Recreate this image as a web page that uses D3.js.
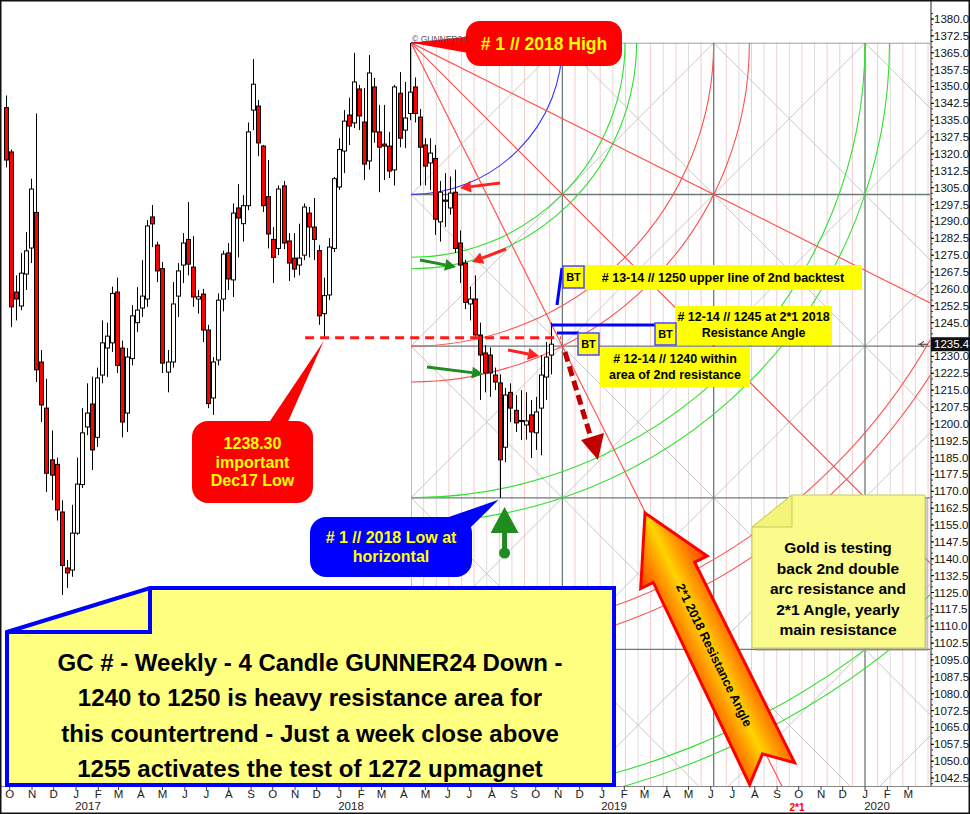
<!DOCTYPE html>
<html><head><meta charset="utf-8">
<script src="https://cdn.jsdelivr.net/npm/d3@7"></script>
<style>
body{margin:0;background:#fff;}
svg{display:block;font-family:"Liberation Sans",Arial,sans-serif;}
</style>
</head><body>
<svg id="c" width="970" height="814"></svg>
<script>
// ---------------- DATA ----------------
const firstWeek = "2016-09-26";
const lastWeek  = "2018-10-22";
const opens  = [1340.6,1320.9,1258.6,1252.4,1266.6,1278.2,1294,1227.5,1207,1184,1182,1160.8,1135.9,1135,1151.4,1173,1198.6,1208.8,1194,1221.7,1233.7,1236,1258.6,1233.7,1204.8,1229,1245,1251.5,1255.5,1292,1279.5,1269,1223,1227.5,1256.8,1270.6,1282,1269.7,1255.5,1257.7,1241.7,1211.5,1228.4,1255.5,1276,1264,1296,1289,1297,1339.5,1341.3,1323.5,1301,1282,1278,1305.8,1281.3,1273.7,1270.6,1275,1293.7,1287.5,1277,1249,1257.3,1278,1305.3,1321.3,1337.3,1333.8,1348.9,1334.2,1316.9,1349.8,1329.8,1324.4,1323.5,1312.9,1347,1330.6,1338,1349.8,1336.4,1324,1316,1318,1289.8,1299.5,1296,1303,1280.4,1271.5,1253.3,1255.5,1239.5,1231.5,1230.6,1221.7,1218.2,1189.6,1214,1206,1201,1199.5,1204,1196,1207,1220.8,1230.6];
const highs  = [1346,1322,1266,1276,1285.3,1309,1338,1232.8,1220,1197,1185,1166,1139.5,1164,1185,1207,1218,1221,1225,1246,1245,1261,1265,1237,1233.7,1252.8,1260.8,1272.8,1290.6,1297.3,1281,1272,1232.8,1263,1271.5,1284.8,1298.6,1283.5,1259.5,1260,1244,1229.7,1258,1277,1280.4,1298,1306.6,1301.7,1334,1362.2,1344,1324,1317.3,1287.5,1306,1308,1284.8,1284.8,1289,1298,1296.4,1300.4,1279.5,1265,1282.6,1309.7,1327,1339.5,1345,1365,1350.7,1349.3,1364,1353.8,1341.8,1341.8,1329.8,1350.7,1356.4,1352,1369.4,1354,1340,1327,1327,1324,1308,1311.5,1310,1313,1286,1273,1261,1266,1245,1235,1234,1225,1222,1216,1218,1212.8,1215,1214,1210.6,1212,1230.6,1236.4,1245];
const lows   = [1314,1243,1246,1250.6,1259.5,1271.5,1218.6,1200.8,1169.7,1166,1157,1123.9,1127,1132,1150.6,1171.5,1195,1179.5,1189.7,1218,1220.8,1232,1222.6,1194,1196.4,1226,1240.8,1247.5,1252,1278.6,1263,1222.6,1214,1225,1247.5,1262.6,1266,1252,1249,1236.4,1207,1204,1226,1250,1259.5,1256.4,1274,1281,1295,1330.6,1319,1294.2,1278,1262.6,1275,1277.7,1263.5,1265,1266,1272.8,1274,1272.8,1244,1238.3,1255,1276.4,1304,1311.5,1324,1331.5,1330.6,1308.4,1313,1325,1303,1308.4,1309.3,1306,1323,1322.6,1335,1334,1306,1306,1304,1284,1281,1287.5,1293,1276,1262.6,1251,1246,1238,1210.6,1214,1212,1215,1167.1,1183,1200.8,1196.4,1192.8,1193,1184.8,1188.4,1186,1210.6,1222];
const closes = [1317.3,1252,1255.5,1267,1276.9,1304.4,1224,1208.4,1178,1177.2,1161.7,1137,1133.7,1151.4,1173.2,1196,1204.8,1188.4,1220.4,1236,1239,1258,1226,1200.8,1229.7,1248,1250.6,1256.8,1288,1288.9,1268,1227,1227.5,1253.3,1268,1280.4,1271,1256.4,1256.5,1241.7,1209,1227.5,1255,1275.5,1264.4,1293.7,1291.5,1297,1329.8,1351,1324.9,1297,1284.4,1274,1304.4,1280.4,1271.5,1268.8,1273.7,1296.4,1287.5,1282,1248,1257,1278.6,1309,1322,1334.6,1332.4,1352,1336.9,1315.5,1356,1329.8,1323,1323.5,1312.4,1349.8,1327,1336,1347.5,1338,1323,1314.6,1320.4,1291,1303,1299,1302.6,1278,1270.6,1254,1255.5,1239.5,1230.6,1222.6,1222.6,1218.6,1184,1212.8,1207,1200.4,1201.5,1201.3,1196.4,1205.3,1221.7,1229.7,1235.4];

const priceTicks = d3.range(1042.5, 1380.01, 7.5);
const monthLetters = ["J","F","M","A","M","J","J","A","S","O","N","D"];
const yearLabels = ["2017","2018","2019","2020"];
const lastPrice = 1235.4;
const dec17Low = 1238.3;
const low2018 = {date:"2018-08-16", price:1167.1};
const gannOrigin = {date:"2018-04-11", price:1369.4};
const squareDays = 210, squarePrice = 67.43;
const arcs = [ // radius in squares
  {r:1, c:"#3030ff"},
  {r:1.414, c:"#30e030"},{r:1.49, c:"#30e030"},
  {r:2, c:"#ff5050"},{r:2.236, c:"#ff5050"},
  {r:3, c:"#30e030"},{r:3.162, c:"#30e030"},
  {r:3.95, c:"#ff5050"},{r:4.07, c:"#ff5050"},
  {r:5, c:"#30e030"},{r:5.1, c:"#30e030"}
];
const fanLines = [[1,1],[2,1],[1,2]]; // [time squares, price squares]

// ---------------- SETUP ----------------
const parse = d3.timeParse("%Y-%m-%d");
const weeks = d3.timeMonday.range(parse(firstWeek), d3.timeDay.offset(parse(lastWeek),1));
const candles = weeks.map((d,i)=>({d, o:opens[i], h:highs[i], l:lows[i], c:closes[i]}));

const PR = 930, PT = 8, PB = 786;
const x = d3.scaleTime().domain([new Date(2017,0,1), new Date(2020,0,1)]).range([76,865]);
const y = d3.scaleLinear().domain([1040.3,1384.9]).range([783,8]);

const svg = d3.select("#c");
const defs = svg.append("defs");
defs.append("clipPath").attr("id","plot").append("rect").attr("x",0).attr("y",PT).attr("width",PR).attr("height",PB-PT);

const o = parse(gannOrigin.date);
const ox = x(o), oy = y(gannOrigin.price);
const sx = x(d3.timeDay.offset(o, squareDays)) - ox;
const sy = y(gannOrigin.price - squarePrice) - oy;
defs.append("clipPath").attr("id","grid").append("rect").attr("x",ox).attr("y",oy).attr("width",PR-ox).attr("height",PB-oy);

svg.append("rect").attr("width",970).attr("height",814).attr("fill","#fff");

const G = svg.append("g").attr("clip-path","url(#grid)");
// light sub-verticals
for (let m=1; ox + m*sx/12 < PR; m++) {
  if (m%12===0) continue;
  const xx = ox + m*sx/12;
  G.append("line").attr("x1",xx).attr("x2",xx).attr("y1",oy).attr("y2",PB)
    .attr("stroke", m%2 ? "#f5cccc" : "#dedada").attr("stroke-width",1);
}
// gray diagonals
for (let k=-8; k<=12; k++) {
  const bx = ox + k*sx;
  G.append("line").attr("x1",bx).attr("y1",oy).attr("x2",bx+8*sx).attr("y2",oy+8*sy).attr("stroke","#c8c8c8").attr("stroke-width",1);
  G.append("line").attr("x1",bx).attr("y1",oy).attr("x2",bx-8*sx).attr("y2",oy+8*sy).attr("stroke","#c8c8c8").attr("stroke-width",1);
}
// main grid
for (let j=0;j<6;j++) G.append("line").attr("x1",ox).attr("x2",PR).attr("y1",oy+j*sy).attr("y2",oy+j*sy).attr("stroke","#6e7a78").attr("stroke-width",1.3);
for (let i=0;i<4;i++) G.append("line").attr("x1",ox+i*sx).attr("x2",ox+i*sx).attr("y1",oy).attr("y2",PB).attr("stroke", i===0?"#9a9a9a":"#6e7a78").attr("stroke-width",1.3);
// arcs
arcs.forEach(a=>{
  const rx=a.r*sx, ry=a.r*sy;
  G.append("path").attr("d",`M${ox},${oy+ry} A${rx},${ry} 0 0 0 ${ox+rx},${oy}`)
   .attr("fill","none").attr("stroke",a.c).attr("stroke-width",1.1);
});
// fan lines
fanLines.forEach(([a,b])=>{
  G.append("line").attr("x1",ox).attr("y1",oy).attr("x2",ox+a*sx*8).attr("y2",oy+b*sy*8)
   .attr("stroke","#ff4a4a").attr("stroke-width",1.1);
});
svg.append("line").attr("x1",ox).attr("x2",ox+55).attr("y1",oy).attr("y2",oy).attr("stroke","#3030ff").attr("stroke-width",1.5);

// ---------------- CANDLES ----------------
const C = svg.append("g").attr("clip-path","url(#plot)");
C.selectAll("line.w").data(candles).join("line")
  .attr("x1",d=>Math.round(x(d.d))+0.5).attr("x2",d=>Math.round(x(d.d))+0.5)
  .attr("y1",d=>y(d.h)).attr("y2",d=>y(d.l)).attr("stroke","#000").attr("stroke-width",1);
C.selectAll("rect.b").data(candles).join("rect")
  .attr("x",d=>Math.round(x(d.d))-1.5).attr("width",4)
  .attr("y",d=>y(Math.max(d.o,d.c))).attr("height",d=>Math.max(1,Math.abs(y(d.o)-y(d.c))))
  .attr("fill",d=>d.c<d.o?"#ff0000":"#ffffff").attr("stroke","#000").attr("stroke-width",1);

// ---------------- AXES ----------------
const ax = svg.append("g");
ax.append("line").attr("x1",PR+1).attr("x2",PR+1).attr("y1",0).attr("y2",PB).attr("stroke","#222");
ax.append("line").attr("x1",0).attr("x2",970).attr("y1",PB+0.5).attr("y2",PB+0.5).attr("stroke","#888");
d3.range(1040,1382.6,2.5).forEach(p=>{
  ax.append("line").attr("x1",PR+1).attr("x2",PR+3).attr("y1",y(p)).attr("y2",y(p)).attr("stroke","#333");
});
priceTicks.forEach(p=>{
  ax.append("line").attr("x1",PR+1).attr("x2",PR+4).attr("y1",y(p)).attr("y2",y(p)).attr("stroke","#000");
  if (Math.abs(y(p)-y(lastPrice)) < 11) return; // hidden by current price box
  ax.append("text").attr("x",PR+4).attr("y",y(p)+4).attr("font-size",11.5).attr("fill","#111").text(d3.format(".1f")(p));
});
ax.append("rect").attr("x",PR+1).attr("y",y(lastPrice)-7).attr("width",38).attr("height",14).attr("fill","#111");
ax.append("text").attr("x",PR+4).attr("y",y(lastPrice)+4).attr("font-size",11.5).attr("fill","#fff").text(d3.format(".1f")(lastPrice));
ax.append("path").attr("d",`M${PR-12},${y(lastPrice)} L${PR-2},${y(lastPrice)} M${PR-6},${y(lastPrice)-3} L${PR-10},${y(lastPrice)} L${PR-6},${y(lastPrice)+3}`).attr("stroke","#333").attr("fill","none");
d3.timeMonth.range(new Date(2016,9,1), new Date(2020,3,1)).forEach(d=>{
  const xx = x(d);
  ax.append("line").attr("x1",xx).attr("x2",xx).attr("y1",PB).attr("y2",PB+4).attr("stroke","#444");
  ax.append("text").attr("x",xx).attr("y",PB+12).attr("text-anchor","middle").attr("font-size",11.5).attr("fill","#222").text(monthLetters[d.getMonth()]);
});
yearLabels.forEach(yy=>{
  ax.append("text").attr("x",x(new Date(+yy,0,1))+12).attr("y",PB+24).attr("text-anchor","middle").attr("font-size",11.5).attr("fill","#222").text(yy);
});
ax.append("text").attr("x",797).attr("y",PB+25).attr("text-anchor","middle").attr("font-size",10).attr("font-weight","bold").attr("fill","#ff0000").text("2*1");
svg.append("rect").attr("x",0.75).attr("y",0.75).attr("width",968.5).attr("height",812.5).attr("fill","none").attr("stroke","#111").attr("stroke-width",1.5);

// ---------------- ANNOTATIONS ----------------
const A = svg.append("g");
A.append("line").attr("x1",x(parse("2017-11-15"))).attr("x2",x(parse("2018-11-05")))
 .attr("y1",y(dec17Low)).attr("y2",y(dec17Low)).attr("stroke","#ff1a1a").attr("stroke-width",3).attr("stroke-dasharray","9,6");

function arrow(x1,y1,x2,y2,col,w){
  const dx=x2-x1, dy=y2-y1, L=Math.hypot(dx,dy), ux=dx/L, uy=dy/L, hl=11, hw=6;
  const bx=x2-ux*hl, by=y2-uy*hl;
  A.append("line").attr("x1",x1).attr("y1",y1).attr("x2",bx).attr("y2",by).attr("stroke",col).attr("stroke-width",w);
  A.append("path").attr("d",`M${x2},${y2} L${bx-uy*hw},${by+ux*hw} L${bx+uy*hw},${by-ux*hw} Z`).attr("fill",col);
}
arrow(500,183,460,188,"#ff2020",3);
arrow(506,249,472,262,"#ff2020",3);
arrow(508,350,539,356,"#ff2020",3);
arrow(420,260,456,267,"#1e8c1e",3);
arrow(427,367,483,374,"#1e8c1e",3);

A.append("line").attr("x1",565).attr("y1",352).attr("x2",591).attr("y2",438).attr("stroke","#c00000").attr("stroke-width",5).attr("stroke-dasharray","10,5");
A.append("path").attr("d","M581,440 L604,433 L598,460 Z").attr("fill","#c00000");

A.append("path").attr("d","M557,305 L562,268").attr("stroke","#0000ff").attr("stroke-width",3).attr("fill","none");
A.append("path").attr("d",`M${x(parse(lastWeek))},325 L655,325`).attr("stroke","#0000ff").attr("stroke-width",3).attr("fill","none");
A.append("path").attr("d","M557,333 L579,333").attr("stroke","#0000ff").attr("stroke-width",3).attr("fill","none");
function bt(bx,by){
  A.append("rect").attr("x",bx).attr("y",by).attr("width",21).attr("height",22).attr("fill","#ffff00").attr("stroke","#4848ff").attr("stroke-width",1.5);
  A.append("text").attr("x",bx+10.5).attr("y",by+15).attr("text-anchor","middle").attr("font-size",11).attr("font-weight","bold").text("BT");
}
function ylabel(rx,ry,rw,rh,lines,base,fs){
  A.append("rect").attr("x",rx).attr("y",ry).attr("width",rw).attr("height",rh).attr("fill","#ffff00");
  lines.forEach((t,i)=>A.append("text").attr("x",rx+rw/2).attr("y",base+i*16).attr("text-anchor","middle")
    .attr("font-size",fs).attr("font-weight","bold").attr("fill","#000").text(t));
}
ylabel(584,265,278,25,["# 13-14 // 1250 upper line of 2nd backtest"],282,12.5);
bt(563,266);
ylabel(675,306,157,39,["# 12-14 // 1245 at 2*1 2018","Resistance Angle"],321,12.5);
bt(655,323);
ylabel(600,347,150,40,["# 12-14 // 1240 within","area of 2nd resistance"],363,12.5);
bt(578,333);

A.append("path").attr("d",`M${ox},${oy} L474,36 L474,54 Z`).attr("fill","#ff0000");
A.append("rect").attr("x",466).attr("y",21).attr("width",156).attr("height",45).attr("rx",14).attr("fill","#ff0000");
A.append("text").attr("x",544).attr("y",50).attr("text-anchor","middle").attr("font-size",17.5).attr("font-weight","bold").attr("fill","#ffff00").text("# 1 // 2018 High");
A.append("text").attr("x",ox+1).attr("y",oy-1).attr("font-size",8.5).attr("fill","#555").text("© GUNNER24");

A.append("path").attr("d",`M268,424 L287,424 L${x(parse("2017-12-11"))},${y(dec17Low)+3} Z`).attr("fill","#ff0000");
A.append("rect").attr("x",192).attr("y",421).attr("width",121).attr("height",82).attr("rx",16).attr("fill","#ff0000");
["1238.30","important","Dec17 Low"].forEach((t,i)=>A.append("text").attr("x",252.5).attr("y",449+i*18.5)
  .attr("text-anchor","middle").attr("font-size",16).attr("font-weight","bold").attr("fill","#ffff00").text(t));

A.append("path").attr("d",`M440,520 L470,528 L${x(parse(low2018.date))-4},${y(low2018.price)+2} Z`).attr("fill","#0000ff");
A.append("rect").attr("x",310).attr("y",517).attr("width",162).attr("height",60).attr("rx",16).attr("fill","#0000ff");
["# 1 // 2018 Low at","horizontal"].forEach((t,i)=>A.append("text").attr("x",391).attr("y",543+i*19)
  .attr("text-anchor","middle").attr("font-size",16).attr("font-weight","bold").attr("fill","#ffff00").text(t));

const gx = x(parse(low2018.date))+2;
A.append("path").attr("d",`M${gx},507 L${gx-14},533 L${gx+14},533 Z`).attr("fill","#1e8c1e");
A.append("rect").attr("x",gx-2.5).attr("y",532).attr("width",5).attr("height",21).attr("fill","#1e8c1e");
A.append("circle").attr("cx",gx).attr("cy",553).attr("r",5.5).attr("fill","#1e8c1e");

const grad = defs.append("linearGradient").attr("id","og").attr("gradientUnits","userSpaceOnUse").attr("x1",0).attr("y1",-40).attr("x2",0).attr("y2",40);
[[0,"#ff3000"],[0.3,"#ff9000"],[0.5,"#ffd400"],[0.7,"#ff9000"],[1,"#ff3000"]].forEach(([o2,c])=>grad.append("stop").attr("offset",o2).attr("stop-color",c));
const OA = A.append("g").attr("transform","translate(645,513) rotate(64)");
OA.append("path").attr("d","M0,0 L66,-37 L66,-23 L290,-25 L268,0 L290,25 L66,23 L66,37 Z")
  .attr("fill","url(#og)").attr("stroke","#ff0000").attr("stroke-width",3).attr("stroke-linejoin","miter");
OA.append("text").attr("x",158).attr("y",4.5).attr("text-anchor","middle").attr("font-size",12.5).attr("font-weight","bold").attr("fill","#000").text("2*1 2018 Resistance Angle");

A.append("path").attr("d","M755,530 L795,498 L928,498 L928,651 L755,651 Z").attr("fill","#999").attr("opacity",0.5);
A.append("path").attr("d","M752,527 L792,495 L925,495 L925,648 L752,648 Z").attr("fill","#fbfb8c").attr("stroke","#c8c860").attr("stroke-width",1);
A.append("path").attr("d","M752,527 L792,527 L792,495 Z").attr("fill","#f4f47a").attr("stroke","#c8c860").attr("stroke-width",1);
["Gold is testing","back 2nd double","arc resistance and","2*1 Angle, yearly","main resistance"].forEach((t,i)=>
  A.append("text").attr("x",838).attr("y",553+i*20.5).attr("text-anchor","middle").attr("font-size",15.5).attr("font-weight","bold").attr("fill","#000").text(t));

A.append("path").attr("d","M7,632 L150,588 L614,588 L614,785 L7,785 Z").attr("fill","#ffff80").attr("stroke","#0000ff").attr("stroke-width",4).attr("stroke-linejoin","miter");
A.append("path").attr("d","M7,632 L150,632 L150,588").attr("fill","none").attr("stroke","#0000ff").attr("stroke-width",4);
["GC # - Weekly - 4 Candle GUNNER24 Down -","1240 to 1250 is heavy resistance area for","this countertrend - Just a week close above","1255 activates the test of 1272 upmagnet"].forEach((t,i)=>
  A.append("text").attr("x",310).attr("y",671+i*35.3).attr("text-anchor","middle").attr("font-size",24).attr("font-weight","bold").attr("fill","#000").text(t));
</script>
</body></html>
